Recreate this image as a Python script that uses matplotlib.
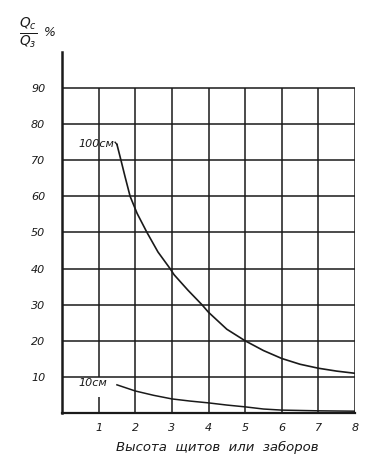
import matplotlib.pyplot as plt

# curve readings (height of fence, Qc/Qz %)
x_100 = [1.5, 1.61, 1.72, 1.86, 2.05, 2.32, 2.62, 2.95, 3.06, 3.44, 3.82, 4.0, 4.5, 5.0, 5.5, 6.0, 6.5, 7.0, 7.5, 8.0]
y_100 = [74.4, 70.0, 65.5, 60.0, 55.3, 50.0, 44.6, 40.0, 38.3, 34.0, 30.0, 27.9, 23.2, 20.0, 17.3, 15.1, 13.5, 12.4, 11.6, 11.0]

x_10 = [1.5, 2.0, 2.5, 3.0, 3.5, 4.0, 4.5, 5.0, 5.5, 6.0, 7.0, 8.0]
y_10 = [7.8, 6.1, 4.9, 3.9, 3.3, 2.8, 2.2, 1.7, 1.1, 0.8, 0.6, 0.5]

y_ticks = [10, 20, 30, 40, 50, 60, 70, 80, 90]
x_ticks = [1, 2, 3, 4, 5, 6, 7, 8]

ink = '#1a1a1a'

fig = plt.figure(figsize=(3.84, 4.74), dpi=100)
ax = fig.add_axes([0.1615, 0.1287, 0.763, 0.7616])
ax.set_xlim(0, 8)
ax.set_ylim(0, 100)

#grid drawn by hand so it stops at 90
for yv in y_ticks:
    ax.hlines(yv, 0, 8, color=ink, lw=1.1)
for xv in x_ticks:
    if xv == 1:
        ax.vlines(xv, 10, 90, color=ink, lw=1.1)
        ax.vlines(xv, 0, 4.5, color=ink, lw=1.1)
    else:
        ax.vlines(xv, 0, 90, color=ink, lw=1.1)

ax.plot(x_100, y_100, color=ink, lw=1.2)
ax.plot([1.45, 1.5], [75.0, 74.4], color=ink, lw=1.0)
ax.plot(x_10, y_10, color=ink, lw=1.1)

ax.text(1.43, 74.6, '100см', ha='right', va='center', fontsize=8, style='italic', color=ink)
ax.text(1.23, 8.3, '10см', ha='right', va='center', fontsize=8, style='italic', color=ink)

for s in ['top', 'right']:
    ax.spines[s].set_visible(False)
ax.spines['left'].set_linewidth(1.8)
ax.spines['bottom'].set_linewidth(1.6)
ax.spines['left'].set_color(ink)
ax.spines['bottom'].set_color(ink)

ax.set_yticks(y_ticks)
ax.set_yticklabels([str(v) for v in y_ticks], fontsize=8, style='italic', color=ink)
ax.set_xticks(x_ticks)
ax.set_xticklabels([str(v) for v in x_ticks], fontsize=8, style='italic', color=ink)
ax.tick_params(axis='both', length=0)
ax.tick_params(axis='y', pad=12)
ax.tick_params(axis='x', pad=7)

fig.text(217 / 384, 1 - 447 / 474, 'Высота  щитов  или  заборов', ha='center', va='center',
         fontsize=9.5, style='italic', color=ink)
fig.text(28 / 384, 1 - 33 / 474, r'$\frac{Q_c}{Q_з}$', ha='center', va='center', fontsize=14, color=ink)
fig.text(50 / 384, 1 - 33 / 474, '%', ha='center', va='center', fontsize=9, style='italic', color=ink)

fig.savefig('out.png', dpi=100)
